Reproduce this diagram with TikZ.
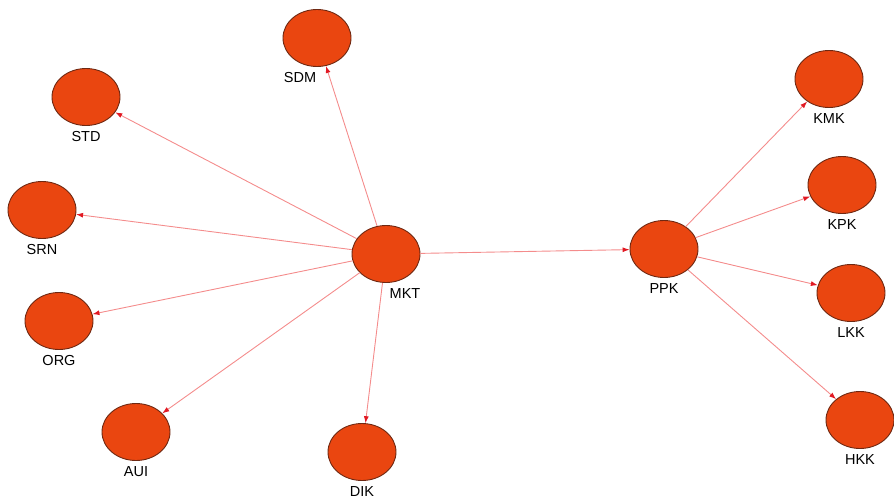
\documentclass[tikz,border=0pt]{standalone}
\usepackage{fontspec}
\setmainfont{Liberation Sans}
\usetikzlibrary{arrows.meta,positioning,shapes.geometric}
\definecolor{nodefill}{RGB}{234,70,16}
\definecolor{nodeline}{RGB}{110,40,18}
\definecolor{edgeline}{RGB}{244,140,140}
\definecolor{tipred}{RGB}{225,25,35}
\tikzset{
vertex/.style={ellipse,draw=nodeline,fill=nodefill,line width=.9pt,minimum width=68pt,minimum height=57pt,inner sep=0pt},
lbl/.style={font=\fontsize{14.5}{16}\selectfont,inner sep=1pt,yshift=-4pt},
link/.style={-{Latex[length=7pt,width=5pt,color=tipred]},draw=edgeline,line width=.9pt}
}
\begin{document}
\begin{tikzpicture}[x=1pt,y=-1pt]
\useasboundingbox (0,0) rectangle (894,501);
\node[vertex,label={[lbl,xshift=19pt]below:MKT}] (mkt) at (386,254) {};
\node[vertex,label={[lbl,xshift=-17pt]below:SDM}] (sdm) at (317,38) {};
\node[vertex,label={[lbl]below:STD}] (std) at (86,97) {};
\node[vertex,label={[lbl]below:SRN}] (srn) at (42,210) {};
\node[vertex,label={[lbl]below:ORG}] (org) at (59,321) {};
\node[vertex,label={[lbl]below:AUI}] (aui) at (136,432) {};
\node[vertex,label={[lbl]below:DIK}] (dik) at (362,452) {};
\node[vertex,label={[lbl]below:PPK}] (ppk) at (664,249) {};
\node[vertex,label={[lbl]below:KMK}] (kmk) at (829,79) {};
\node[vertex,label={[lbl]below:KPK}] (kpk) at (842,185) {};
\node[vertex,label={[lbl]below:LKK}] (lkk) at (851,293) {};
\node[vertex,label={[lbl]below:HKK}] (hkk) at (860,420) {};

\foreach \t in {sdm,std,srn,org,aui,dik,ppk}
  \draw[link] (mkt) -- (\t);
\foreach \t in {kmk,kpk,lkk,hkk}
  \draw[link] (ppk) -- (\t);
\end{tikzpicture}
\end{document}
